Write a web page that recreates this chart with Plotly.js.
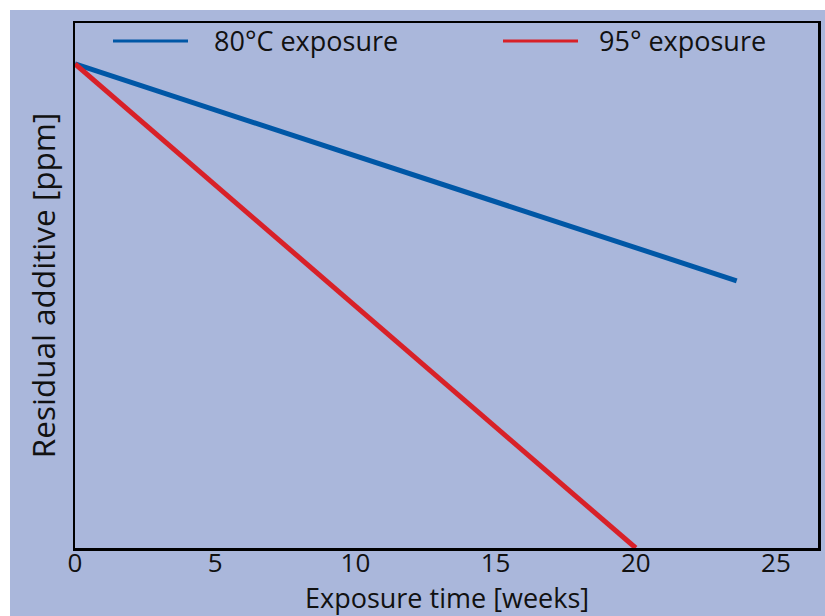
<!DOCTYPE html>
<html>
<head>
<meta charset="utf-8">
<script src="https://cdn.plot.ly/plotly-3.0.1.min.js"></script>
<style>html,body{margin:0;padding:0;background:#fff;}#chart{width:825px;height:616px;}</style>
</head>
<body>
<div id="chart"></div>
<script>
// Data
const seriesNames = ["80°C exposure", "95° exposure"];
const weeks80 = [0, 23.6];
const residual80 = [92.2, 50.9];
const weeks95 = [0, 20];
const residual95 = [92.2, 0];
const xTickVals = [0, 5, 10, 15, 20, 25];
const xTickText = ["0", "5", "10", "15", "20", "25"];
const xTitle = "Exposure time [weeks]";
const yTitle = "Residual additive [ppm]";

const bg = "#aab7db";
const blue = "#0057a6";
const red = "#d82128";
const font = "Open Sans, sans-serif";

const traces = [
  {x: weeks80, y: residual80, mode: "lines", name: seriesNames[0],
   line: {color: blue, width: 5}, showlegend: false, cliponaxis: false},
  {x: weeks95, y: residual95, mode: "lines", name: seriesNames[1],
   line: {color: red, width: 5}, showlegend: false, cliponaxis: false}
];

const W = 825, H = 616, L = 75, R = 7, T = 23, B = 68;
const pw = W - L - R, ph = H - T - B;
const px = v => (v - L) / pw;          // pixel x -> paper
const py = v => (H - B - v) / ph;      // pixel y -> paper

const layout = {
  width: W, height: H,
  margin: {l: L, r: R, t: T, b: B, pad: 0},
  paper_bgcolor: "#ffffff",
  plot_bgcolor: "rgba(0,0,0,0)",
  showlegend: false,
  xaxis: {
    range: [0, 26.5], tickvals: xTickVals, ticktext: xTickText,
    showgrid: false, zeroline: false, ticks: "", ticklabelstandoff: -10,
    showline: true, mirror: true, linecolor: "#000", linewidth: 2.5,
    tickfont: {family: font, size: 26, color: "#111"}
  },
  yaxis: {
    range: [0, 100], showticklabels: false, showgrid: false, zeroline: false, ticks: "",
    showline: true, mirror: true, linecolor: "#000", linewidth: 2.5,
    title: {text: yTitle, standoff: 8,
      font: {family: font, size: 31.5, color: "#111"}}
  },
  shapes: [
    {type: "rect", xref: "paper", yref: "paper", layer: "below",
     x0: px(10), x1: px(830), y0: py(620), y1: py(10),
     fillcolor: bg, line: {width: 0}},
    {type: "line", xref: "paper", yref: "paper",
     x0: px(113), x1: px(188), y0: py(41), y1: py(41), line: {color: blue, width: 3}},
    {type: "line", xref: "paper", yref: "paper",
     x0: px(503), x1: px(578), y0: py(41), y1: py(41), line: {color: red, width: 3}}
  ],
  annotations: [
    {xref: "paper", yref: "paper", x: px(212), y: py(41), xanchor: "left", yanchor: "middle",
     text: seriesNames[0], showarrow: false,
     font: {family: font, size: 27, color: "#111"}},
    {xref: "paper", yref: "paper", x: px(597), y: py(41), xanchor: "left", yanchor: "middle",
     text: seriesNames[1], showarrow: false,
     font: {family: font, size: 27, color: "#111"}},
    {xref: "paper", yref: "paper", x: px(447), y: py(597), xanchor: "center", yanchor: "middle",
     text: xTitle, showarrow: false,
     font: {family: font, size: 27, color: "#111"}}
  ]
};

Plotly.newPlot("chart", traces, layout, {displayModeBar: false, staticPlot: true});
</script>
</body>
</html>
